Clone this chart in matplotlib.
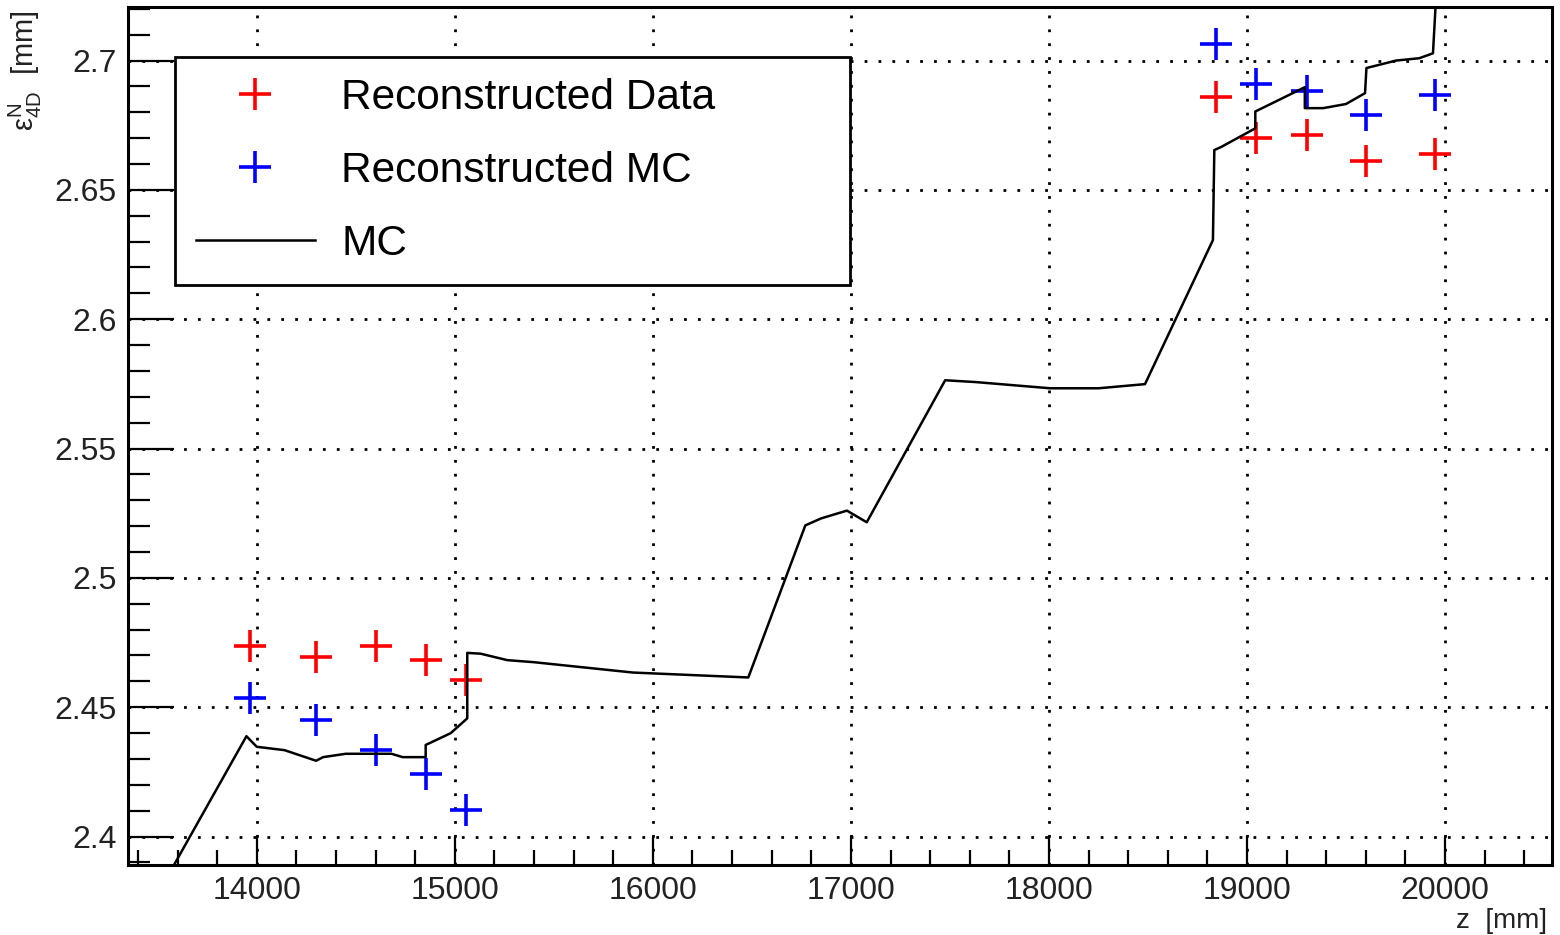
import numpy as np
import matplotlib.pyplot as plt
from matplotlib.ticker import MultipleLocator

plt.rcParams['font.family'] = ['Liberation Sans', 'DejaVu Sans']
plt.rcParams['mathtext.fontset'] = 'custom'
plt.rcParams['mathtext.rm'] = 'Liberation Sans'
plt.rcParams['mathtext.it'] = 'Liberation Sans:italic'

# positions of the reconstruction planes [mm]
z_points = [13965, 14301, 14604, 14856, 15059,
            18842, 19044, 19301, 19603, 19951]
# emittance from reconstructed data [mm]
eps_data = [2.4735, 2.4694, 2.4735, 2.4682, 2.4604,
            2.6858, 2.6700, 2.6713, 2.6612, 2.6637]
# emittance from reconstructed MC [mm]
eps_reco_mc = [2.4537, 2.4449, 2.4333, 2.4243, 2.4101,
               2.7065, 2.6910, 2.6884, 2.6790, 2.6867]

# MC truth curve
z_mc = [13560, 13948, 14000, 14140, 14300, 14335, 14450, 14590, 14680, 14737,
        14853, 14853, 14980, 15063, 15063, 15130, 15265, 15400, 15900, 16482,
        16770, 16850, 16980, 17080, 17476, 17630, 18006, 18250, 18485, 18828,
        18835, 18870, 19042, 19042, 19292, 19292, 19385, 19500, 19596, 19603,
        19753, 19870, 19939, 19955]
eps_mc = [2.386, 2.4388, 2.4347, 2.4334, 2.4293, 2.4307, 2.4320, 2.4320, 2.4320, 2.4307,
          2.4307, 2.4354, 2.4400, 2.4457, 2.4710, 2.4707, 2.4682, 2.4674, 2.4634, 2.4615,
          2.5203, 2.5230, 2.5260, 2.5215, 2.5764, 2.5757, 2.5733, 2.5733, 2.5749, 2.6306,
          2.6654, 2.6666, 2.6738, 2.6803, 2.6897, 2.6816, 2.6816, 2.6832, 2.6874, 2.6971,
          2.7000, 2.7009, 2.7028, 2.7250]

W, H = 1560, 935
fig = plt.figure(figsize=(W / 100, H / 100), dpi=100)
ax = fig.add_axes([128 / W, 1 - 865 / H, (1552 - 128) / W, (865 - 7) / H])

ax.plot(z_points, eps_data, linestyle='none', marker='+', color='red',
        markersize=23, markeredgewidth=2.6, label='Reconstructed Data')
ax.plot(z_points, eps_reco_mc, linestyle='none', marker='+', color='blue',
        markersize=23, markeredgewidth=2.6, label='Reconstructed MC')
ax.plot(z_mc, eps_mc, color='black', linewidth=1.8, label='MC')

ax.set_xlim(13350, 20540)
ax.set_ylim(2.389, 2.7207)

ax.xaxis.set_major_locator(MultipleLocator(1000))
ax.xaxis.set_minor_locator(MultipleLocator(200))
ax.yaxis.set_major_locator(MultipleLocator(0.05))
ax.yaxis.set_minor_locator(MultipleLocator(0.01))
ax.yaxis.set_major_formatter(plt.FuncFormatter(lambda v, p: f'{v:g}'))

ax.tick_params(which='both', direction='in', width=1.6, labelsize=23,
               labelcolor='#222222', top=False, right=False)
ax.tick_params(axis='x', which='major', length=21, pad=8)
ax.tick_params(axis='x', which='minor', length=11)
ax.tick_params(axis='y', which='major', length=33, pad=8)
ax.tick_params(axis='y', which='minor', length=16)

ax.grid(True, which='major', color='black', linestyle=(0, (1, 4)), linewidth=2.0)
for s in ax.spines.values():
    s.set_linewidth(2.2)

# axis titles placed at the ends of the axes, ROOT style
fig.text(1547 / W, 1 - 928 / H, 'z  [mm]', fontsize=20, ha='right', va='baseline',
         color='#222222')
fig.text(44 / W, 1 - 10 / H, r'$\mathrm{ε^{N}_{4D}}$  [mm]', fontsize=21, rotation=90,
         ha='right', va='top', color='#222222')

leg = ax.legend(loc='upper left', bbox_to_anchor=(0.033, 0.681, 0.474, 0.261),
                mode='expand', borderaxespad=0,
                fontsize=30.5, handlelength=2.8, handletextpad=0.62, labelspacing=0.78,
                borderpad=0.5, fancybox=False, framealpha=1, edgecolor='black')
leg.get_frame().set_linewidth(2.0)

fig.savefig('out.png', dpi=100)
